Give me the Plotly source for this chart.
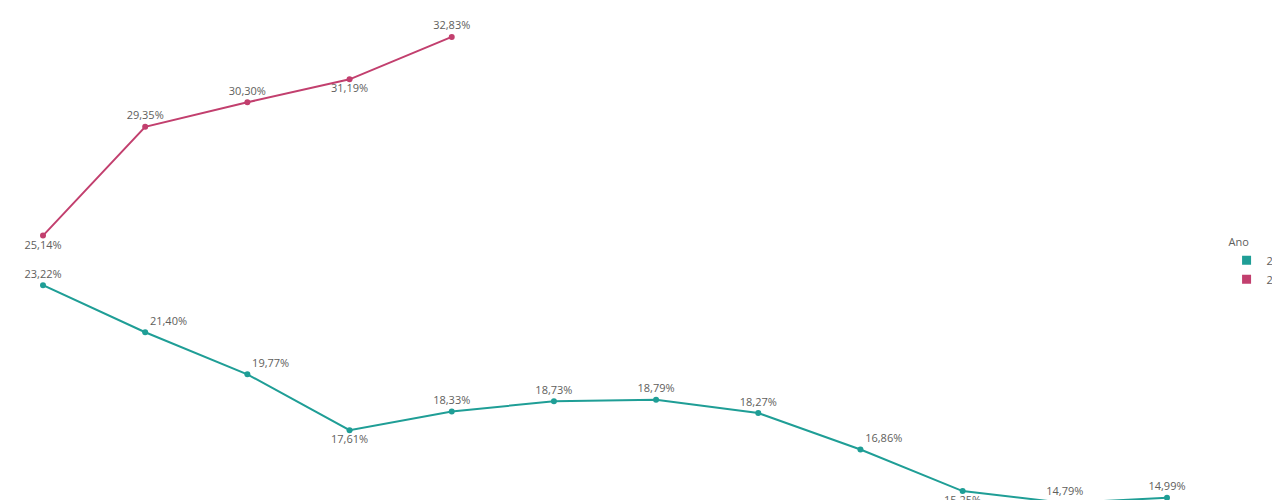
import plotly.graph_objects as go

meses = list(range(12))
v2022 = [23.22, 21.40, 19.77, 17.61, 18.33, 18.73, 18.79, 18.27, 16.86, 15.25, 14.79, 14.99]
v2023 = [25.14, 29.35, 30.30, 31.19, 32.83]
pos2022 = ["top center", "top right", "top right", "bottom center", "top center", "top center",
           "top center", "top center", "top right", "bottom center", "top center", "top center"]
pos2023 = ["bottom center", "top center", "top center", "bottom center", "top center"]

cor22 = "#1f9e96"
cor23 = "#c23f6e"


def fmt(v):
    return f"{v:.2f}".replace(".", ",") + "%"


fig = go.Figure()
for nome, vals, pos, cor in [("2022", v2022, pos2022, cor22), ("2023", v2023, pos2023, cor23)]:
    fig.add_trace(go.Scatter(
        x=meses[:len(vals)], y=vals, mode="lines+markers+text",
        text=[fmt(v) for v in vals], textposition=pos,
        textfont=dict(color="#605e5c", size=11),
        line=dict(color=cor, width=2), marker=dict(color=cor, size=6),
        cliponaxis=False, showlegend=False))
    fig.add_trace(go.Scatter(
        x=[None], y=[None], mode="markers", name=nome,
        marker=dict(color=cor, symbol="square", size=9)))

fig.update_layout(
    width=1280, height=500,
    margin=dict(l=35, r=121, t=0, b=0, autoexpand=False),
    paper_bgcolor="white", plot_bgcolor="white",
    font=dict(family="Open Sans", color="#605e5c"),
    xaxis=dict(range=[0, 11], visible=False),
    yaxis=dict(range=[14.596, 33.95], visible=False),
    legend=dict(title=dict(text="Ano", font=dict(size=11)), x=1.053, y=0.49, yanchor="middle",
                font=dict(size=11), tracegroupgap=0),
)
fig.write_html("out.html")
